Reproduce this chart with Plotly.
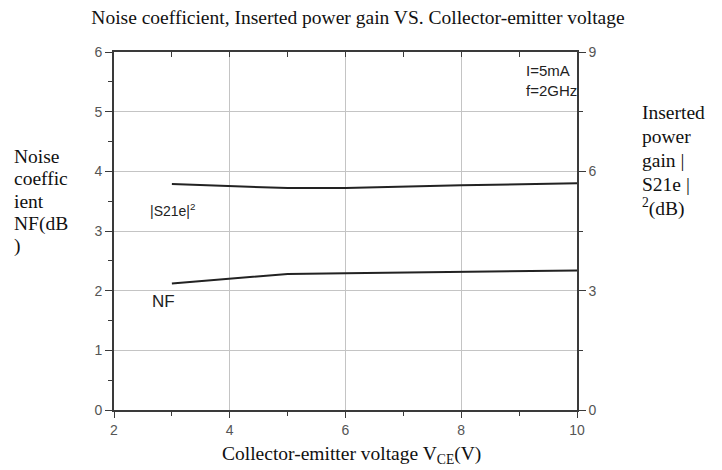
import plotly.graph_objects as go

# collector-emitter voltage (V)
vce = [3, 5, 6, 8, 10]
# noise coefficient NF (dB), left axis
nf = [2.12, 2.28, 2.29, 2.32, 2.34]
# inserted power gain |S21e|^2 (dB), right axis
gain = [5.68, 5.58, 5.58, 5.65, 5.70]

x_ticks = [2, 4, 6, 8, 10]
y_ticks = [0, 1, 2, 3, 4, 5, 6]
y2_ticks = [0, 3, 6, 9]

left_title = ["Noise", "coeffic", "ient", "NF(dB", ")"]
right_title = ["Inserted", "power", "gain |", "S21e |", "<sup>2</sup>(dB)"]

serif = "Liberation Serif, Times New Roman, serif"
sans = "Liberation Sans, Arial, sans-serif"

# plot box in page pixels (page draws the figure 7px in)
PL, PR, PT, PB = 113, 576, 51, 409


def px(xp):
    return (xp - PL) / (PR - PL)


def py(yp):
    return (PB - yp) / (PB - PT)


fig = go.Figure()
fig.add_trace(go.Scatter(x=vce, y=nf, mode="lines",
                         line=dict(color="#222", width=2), showlegend=False))
fig.add_trace(go.Scatter(x=vce, y=gain, mode="lines", yaxis="y2",
                         line=dict(color="#222", width=2), showlegend=False))

axcol = "#3a3a3a"
gridcol = "#c4c4c4"

fig.update_layout(
    width=722, height=470,
    margin=dict(l=106, r=153, t=44, b=68),
    paper_bgcolor="white", plot_bgcolor="white",
    font=dict(family=sans, size=14, color="#555"),
    title=dict(text="Noise coefficient, Inserted power gain VS. Collector-emitter voltage",
               x=(357 - 7) / 722, xref="container", xanchor="center",
               y=1 - 9 / 470, yref="container", yanchor="middle",
               font=dict(family=serif, size=19.5, color="#111")),
    xaxis=dict(range=[2, 10], tickvals=x_ticks, showgrid=True, gridcolor=gridcol,
               showline=True, linecolor=axcol, linewidth=1.6, mirror=True,
               ticks="outside", ticklen=6, tickcolor=axcol, zeroline=False,
               minor=dict(dtick=1, ticks="outside", ticklen=4, tickcolor=axcol, showgrid=False)),
    xaxis2=dict(range=[2, 10], overlaying="x", side="top", showticklabels=False,
                showgrid=False, ticks="inside", ticklen=5, tickcolor=axcol, dtick=1,
                zeroline=False),
    yaxis=dict(range=[0, 6], tickvals=y_ticks, showgrid=True, gridcolor=gridcol,
               showline=True, linecolor=axcol, linewidth=1.6,
               ticks="outside", ticklen=7, tickcolor=axcol, zeroline=False,
               minor=dict(dtick=0.5, ticks="outside", ticklen=4, tickcolor=axcol, showgrid=False)),
    yaxis2=dict(range=[0, 9], tickvals=y2_ticks, overlaying="y", side="right",
                showgrid=False, showline=True, linecolor=axcol, linewidth=1.6,
                ticks="outside", ticklen=7, tickcolor=axcol, zeroline=False,
                minor=dict(dtick=1.5, ticks="outside", ticklen=4, tickcolor=axcol)),
)
# empty trace so the top tick axis is drawn
fig.add_trace(go.Scatter(x=[], y=[], xaxis="x2", showlegend=False))

# x axis title
fig.add_annotation(text="Collector-emitter voltage V<sub>CE</sub>(V)",
                   xref="paper", yref="paper", x=px(350), y=py(454),
                   xanchor="center", yanchor="middle", showarrow=False,
                   font=dict(family=serif, size=19.5, color="#111"))

# wrapped y titles, one line each
for i, line in enumerate(left_title):
    fig.add_annotation(text=line, xref="paper", yref="paper",
                       x=px(11), y=py(155 + 22.5 * i), xanchor="left", yanchor="middle",
                       showarrow=False, font=dict(family=serif, size=19.5, color="#111"))
for i, line in enumerate(right_title):
    fig.add_annotation(text=line, xref="paper", yref="paper",
                       x=px(639), y=py(112 + 23.7 * i), xanchor="left", yanchor="middle",
                       showarrow=False, font=dict(family=serif, size=19.5, color="#111"))

# in-plot labels
fig.add_annotation(text="I=5mA<br>f=2GHz", xref="paper", yref="paper",
                   x=px(523), y=py(79), xanchor="left", yanchor="middle",
                   showarrow=False, align="left", font=dict(family=sans, size=15, color="#222"))
fig.add_annotation(text="|S21e|<sup>2</sup>", xref="paper", yref="paper",
                   x=px(171), y=py(209), xanchor="center", yanchor="middle",
                   showarrow=False, font=dict(family=sans, size=14, color="#222"))
fig.add_annotation(text="NF", xref="paper", yref="paper",
                   x=px(162), y=py(300), xanchor="center", yanchor="middle",
                   showarrow=False, font=dict(family=sans, size=17, color="#222"))

fig.write_html("out.html")
